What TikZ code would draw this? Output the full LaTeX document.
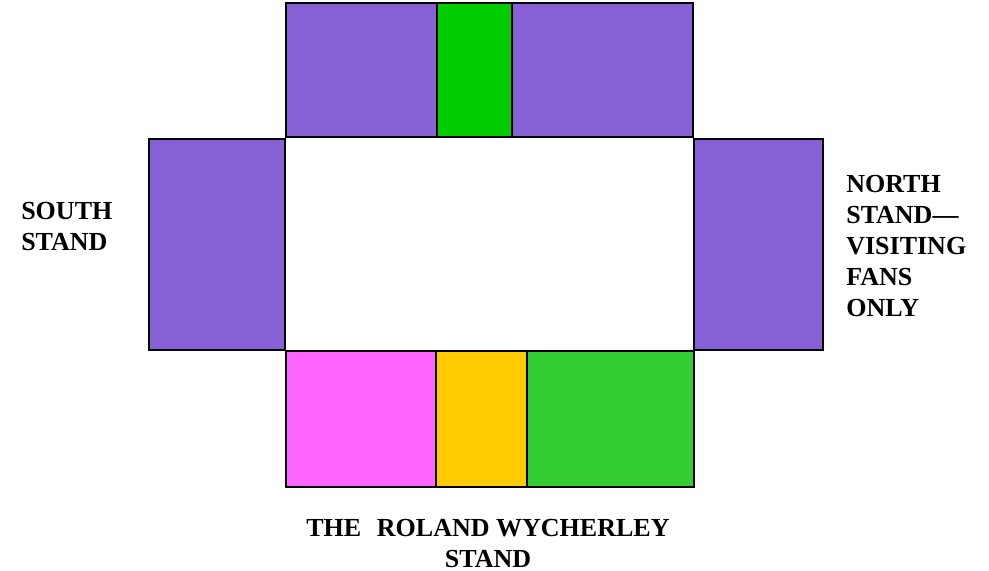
\documentclass[tikz,border=0pt]{standalone}
\usepackage{fontspec}
\setmainfont{Liberation Serif}
\definecolor{standpurple}{RGB}{134,97,214}
\definecolor{standgreen}{RGB}{0,204,0}
\definecolor{standpink}{RGB}{255,102,255}
\definecolor{standyellow}{RGB}{255,204,0}
\definecolor{standlime}{RGB}{51,204,51}
\begin{document}
\begin{tikzpicture}[x=0.025cm,y=-0.025cm,
	stand/.style={draw=black,line width=1pt},
	standlabel/.style={font=\bfseries\fontsize{18.5}{22}\selectfont,inner sep=0pt}]
	\useasboundingbox (0,0) rectangle (989,571);
	% top
	\draw[stand,fill=standpurple] (286,3) rectangle (437,137);
	\draw[stand,fill=standgreen] (437,3) rectangle (512,137);
	\draw[stand,fill=standpurple] (512,3) rectangle (693,137);
	% sides
	\draw[stand,fill=standpurple] (149,139) rectangle (285,350);
	\draw[stand,fill=standpurple] (694,139) rectangle (823,350);
	% bottom
	\draw[stand,fill=standpink] (286,351) rectangle (436,487);
	\draw[stand,fill=standyellow] (436,351) rectangle (527,487);
	\draw[stand,fill=standlime] (527,351) rectangle (694,487);
	
	\node[standlabel,align=left,anchor=north west] (south) at (21,202) {SOUTH\\STAND};
	\node[standlabel,align=left,anchor=north west] (north) at (846,175) {NORTH\\STAND—\\VISITING\\FANS\\ONLY};
	\node[standlabel,align=center,anchor=north] (roland) at (488,519) {THE\hspace{0.6em}ROLAND WYCHERLEY\\STAND};
\end{tikzpicture}
\end{document}
